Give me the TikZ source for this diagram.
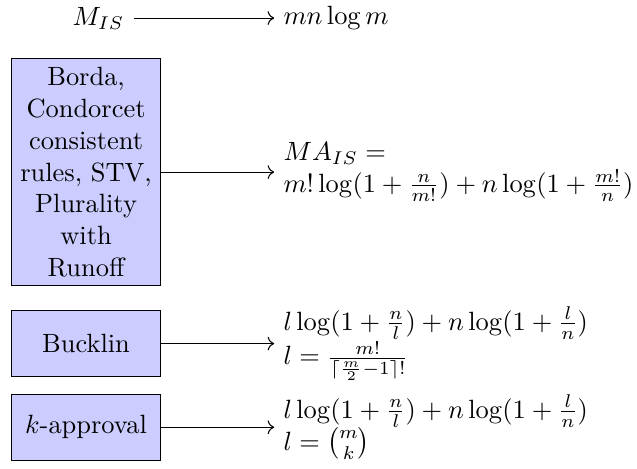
\documentclass[tikz,border=0pt]{standalone}
\usepackage{amsmath, amssymb}
\usepackage{xcolor}
\usepackage{tikz}
\usetikzlibrary{arrows.meta, positioning, calc}

\begin{document}
\begin{tikzpicture}[
    node distance=1.5cm,
    block/.style={rectangle, draw, fill=blue!20, text width=5em, text centered, minimum height=2.5em},
    formula/.style={align=left, anchor=west},
    arrow/.style={->}
]
    \useasboundingbox (-1.145,-3.94) rectangle (7.33,2.29);

    % Multi-round rules
    \node[block] (multi) {Borda,\\ Condorcet\\ consistent\\ rules, STV,\\ Plurality\\ with\\ Runoff};
    \node[formula, right=of multi] (multif) {$MA_{IS}=$\\ $m!\log(1+\frac{n}{m!})+n\log(1+\frac{m!}{n})$};

    % Base case
    \node[formula] (basef) at ($(multif.west)+(0,2.05)$) {$mn\log m$};
    \node[left=1.87cm of basef] (base) {$M_{IS}$};

    % Bucklin
    \node[block, below=0.32cm of multi] (bucklin) {Bucklin};
    \node[formula, right=of bucklin] (bucklinf) {$l\log(1+\frac{n}{l})+n\log(1+\frac{l}{n})$\\ $l=\frac{m!}{\lceil\frac{m}{2}-1\rceil!}$};

    % k-approval
    \node[block, below=0.22cm of bucklin] (kapp) {$k$-approval};
    \node[formula, right=of kapp] (kappf) {$l\log(1+\frac{n}{l})+n\log(1+\frac{l}{n})$\\ $l=\binom{m}{k}$};

    % Arrows
    \draw[arrow] (base) -- (basef);
    \draw[arrow] (multi) -- (multif);
    \draw[arrow] (bucklin) -- (bucklinf);
    \draw[arrow] (kapp) -- (kappf);

\end{tikzpicture}
\end{document}
